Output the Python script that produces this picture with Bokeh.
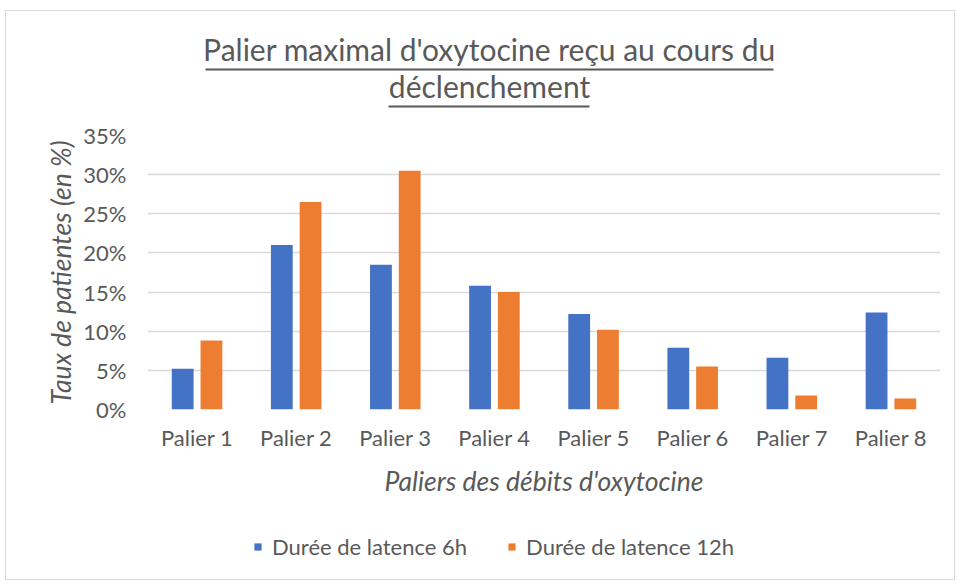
from bokeh.plotting import figure
from bokeh.layouts import column
from bokeh.models import (FactorRange, Range1d, FixedTicker, NumeralTickFormatter,
                          Legend, LegendItem, Label, BoxAnnotation, ColumnDataSource)
from bokeh.transform import dodge
from bokeh.embed import file_html
from bokeh.resources import INLINE

# ---- data ----
categories = ["Palier 1", "Palier 2", "Palier 3", "Palier 4",
              "Palier 5", "Palier 6", "Palier 7", "Palier 8"]
latence_6h = [0.052, 0.210, 0.185, 0.158, 0.122, 0.079, 0.066, 0.124]
latence_12h = [0.088, 0.265, 0.305, 0.150, 0.102, 0.055, 0.018, 0.014]
y_ticks = [0.0, 0.05, 0.10, 0.15, 0.20, 0.25, 0.30, 0.35]
series_names = ["Durée de latence 6h", "Durée de latence 12h"]
title_lines = ["Palier maximal d'oxytocine reçu au cours du", "déclenchement"]
x_title = "Paliers des débits d'oxytocine"
y_title = "Taux de patientes (en %)"

BLUE = "#4472C4"
ORANGE = "#ED7D31"
TEXT = "#595959"
FONT = "Lato"
W = 948
BL, BR = 141, 14          # left / right borders shared by all three strips

# ---- title strip (pixel coordinates of the strip) ----
TH = 109
tfig = figure(width=W, height=TH, x_range=Range1d(BL, W - BR), y_range=Range1d(TH, 0),
              output_backend="svg", toolbar_location=None,
              min_border_left=BL, min_border_right=BR,
              min_border_top=0, min_border_bottom=0,
              x_axis_type=None, y_axis_type=None)
tfig.outline_line_color = None
tfig.add_layout(Label(x=483, y=37, text=title_lines[0], text_align="center",
                      text_baseline="alphabetic", text_font=FONT,
                      text_font_size="30px", text_color=TEXT))
tfig.add_layout(Label(x=483, y=74, text=title_lines[1], text_align="center",
                      text_baseline="alphabetic", text_font=FONT,
                      text_font_size="30px", text_color=TEXT))
tfig.add_layout(BoxAnnotation(left=199, right=767, top=57, bottom=59,
                              fill_color=TEXT, fill_alpha=1, line_color=None))
tfig.add_layout(BoxAnnotation(left=382, right=583, top=94, bottom=96,
                              fill_color=TEXT, fill_alpha=1, line_color=None))

# ---- main chart ----
src = ColumnDataSource(dict(cat=categories, v6=latence_6h, v12=latence_12h))

p = figure(width=W, height=380,
           x_range=FactorRange(factors=categories, range_padding=0),
           y_range=Range1d(0, 0.35),
           output_backend="svg", toolbar_location=None,
           min_border_left=BL, min_border_right=BR,
           min_border_top=15, min_border_bottom=91)

p.vbar(x=dodge("cat", -0.145, range=p.x_range), top="v6", width=0.22,
       source=src, fill_color=BLUE, line_color=None)
p.vbar(x=dodge("cat", 0.145, range=p.x_range), top="v12", width=0.22,
       source=src, fill_color=ORANGE, line_color=None)

p.outline_line_color = None
p.xgrid.grid_line_color = None
p.ygrid.grid_line_color = "#D9D9D9"
p.ygrid.grid_line_width = 1.3

p.yaxis.ticker = FixedTicker(ticks=y_ticks)
p.yaxis.formatter = NumeralTickFormatter(format="0%")

for ax in (p.xaxis[0], p.yaxis[0]):
    ax.axis_line_color = None
    ax.major_tick_line_color = None
    ax.minor_tick_line_color = None
    ax.major_label_text_font = FONT
    ax.major_label_text_font_size = "22px"
    ax.major_label_text_color = TEXT
    ax.axis_label_text_font = FONT
    ax.axis_label_text_font_size = "26.5px"
    ax.axis_label_text_font_style = "italic"
    ax.axis_label_text_color = TEXT

p.yaxis.axis_label = y_title
p.yaxis.major_label_standoff = 15
p.yaxis.axis_label_standoff = 3
p.xaxis.axis_label = x_title
p.xaxis.major_label_standoff = 8
p.xaxis.axis_label_standoff = 11

# ---- legend strip (hidden copies of the two series: only the legend shows) ----
FH = 79
ffig = figure(width=W, height=FH,
              x_range=FactorRange(factors=categories, range_padding=0),
              y_range=Range1d(0, 0.35),
              output_backend="svg", toolbar_location=None,
              min_border_left=BL, min_border_right=BR,
              min_border_top=0, min_border_bottom=0,
              x_axis_type=None, y_axis_type=None)
ffig.outline_line_color = None
ffig.grid.visible = False
l6 = ffig.vbar(x="cat", top="v6", width=0.22, source=src,
               fill_color=BLUE, line_color=None, visible=False)
l12 = ffig.vbar(x="cat", top="v12", width=0.22, source=src,
                fill_color=ORANGE, line_color=None, visible=False)
legend = Legend(items=[LegendItem(label=series_names[0], renderers=[l6]),
                       LegendItem(label=series_names[1], renderers=[l12])],
                orientation="horizontal", location=(106, 19),
                border_line_color=None, background_fill_alpha=0,
                padding=0, margin=0, spacing=40,
                glyph_width=9, glyph_height=9, label_standoff=10,
                label_text_font=FONT, label_text_font_size="22px",
                label_text_color=TEXT)
ffig.add_layout(legend)

layout = column(tfig, p, ffig)
layout.styles = {"border": "1px solid #d9d9d9", "margin-left": "5px",
                 "margin-top": "10px"}

open("out.html", "w").write(file_html(layout, INLINE))
